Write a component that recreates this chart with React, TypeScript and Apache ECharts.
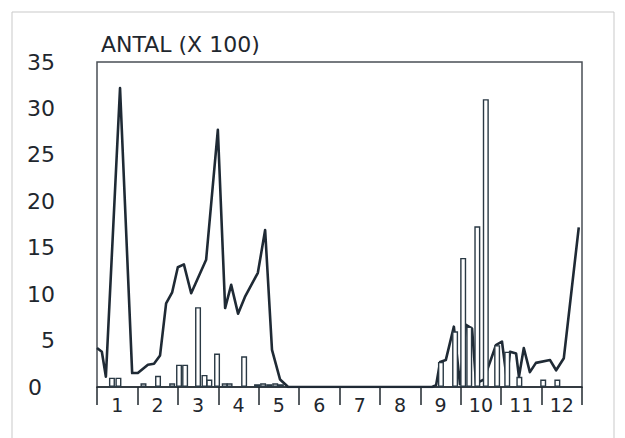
import React, { useEffect, useRef } from "react";
import * as echarts from "echarts";

// Month labels (x axis)
const months = ["1", "2", "3", "4", "5", "6", "7", "8", "9", "10", "11", "12"];

// Line series: position in months (0 = start of Jan, 12 = end of Dec) and value (x 100)
const lineX = [
  0, 0.12, 0.22, 0.57, 0.87, 1.01, 1.26, 1.41, 1.56, 1.71, 1.86, 2.0, 2.15, 2.33, 2.7, 2.99,
  3.17, 3.32, 3.49, 3.66, 3.98, 4.16, 4.33, 4.53, 4.73, 8.29, 8.39, 8.49, 8.63, 8.83, 8.98,
  9.13, 9.28, 9.38, 9.57, 9.87, 10.02, 10.14, 10.22, 10.37, 10.44, 10.56, 10.71, 10.86,
  11.21, 11.36, 11.55, 11.92,
];
const lineY = [
  4.2, 3.8, 1.1, 32.2, 1.5, 1.5, 2.4, 2.5, 3.4, 9.0, 10.2, 12.9, 13.2, 10.1, 13.7, 27.7,
  8.5, 11.0, 7.9, 9.7, 12.3, 16.9, 4.0, 0.8, 0, 0, 0.2, 2.7, 2.9, 6.5, 0.3,
  6.7, 6.3, 0.4, 0.8, 4.5, 4.9, 0.8, 3.8, 3.6, 1.1, 4.2, 1.6, 2.6,
  2.9, 1.8, 3.1, 17.2,
];

// Bar series: position in months and value (x 100)
const barX = [
  0.37, 0.53, 1.15, 1.51, 1.86, 2.03, 2.18, 2.5, 2.66, 2.78, 2.97, 3.16, 3.28, 3.64,
  3.96, 4.11, 4.26, 4.41, 4.55, 8.51, 8.86, 9.06, 9.21, 9.41, 9.62, 9.9, 10.15, 10.45,
  11.04, 11.39,
];
const barY = [
  1.0, 1.0, 0.4, 1.2, 0.4, 2.4, 2.4, 8.6, 1.3, 0.8, 3.6, 0.4, 0.4, 3.3,
  0.3, 0.4, 0.3, 0.4, 0.3, 2.7, 6.0, 13.9, 6.5, 17.3, 31.0, 4.5, 3.8, 1.1,
  0.8, 0.8,
];

const FONT = "'DejaVu Sans', Verdana, sans-serif";
const INK = "#1f272e";

export default function App() {
  const ref = useRef<HTMLDivElement>(null);

  useEffect(() => {
    if (!ref.current) return;
    const chart = echarts.init(ref.current, null, { renderer: "svg" });
    const option: any = {
      animation: false,
      backgroundColor: "#ffffff",
      title: {
        text: "ANTAL (X 100)",
        left: 96,
        top: 28,
        textStyle: { fontFamily: FONT, fontSize: 22, fontWeight: "normal", color: INK },
      },
      graphic: [
        {
          type: "rect",
          shape: { x: 12, y: 12, width: 602, height: 440 },
          style: { fill: "none", stroke: "#c9c9c9", lineWidth: 1 },
          silent: true,
        },
      ],
      grid: {
        left: 97,
        right: 43,
        top: 62,
        bottom: 51,
        show: true,
        borderColor: "#4a4f55",
        borderWidth: 1.5,
        backgroundColor: "#ffffff",
      },
      xAxis: [
        {
          type: "value",
          min: 0,
          max: 12,
          show: false,
        },
        {
          type: "category",
          data: months,
          boundaryGap: true,
          position: "bottom",
          axisLine: { show: true, lineStyle: { color: INK, width: 1.5 } },
          axisTick: {
            show: true,
            interval: 0,
            length: 18,
            lineStyle: { color: INK, width: 1.5 },
          },
          axisLabel: {
            interval: 0,
            margin: 8,
            fontFamily: FONT,
            fontSize: 19,
            color: INK,
          },
          splitLine: { show: false },
        },
      ],
      yAxis: {
        type: "value",
        min: 0,
        max: 35,
        interval: 5,
        axisLine: { show: false },
        axisTick: { show: false },
        splitLine: { show: false },
        axisLabel: {
          margin: 42,
          fontFamily: FONT,
          fontSize: 22,
          color: INK,
          formatter: (v: number) => (v === 0 ? "{z|0}" : String(v)),
          rich: {
            z: { fontFamily: FONT, fontSize: 22, color: INK, padding: [0, 13, 0, 0] },
          },
        },
      },
      series: [
        {
          type: "line",
          xAxisIndex: 0,
          data: lineX.map((x, i) => [x, lineY[i]]),
          showSymbol: false,
          symbol: "none",
          lineStyle: { color: "#1f2a35", width: 2.6, join: "round" },
          z: 2,
        },
        {
          type: "bar",
          xAxisIndex: 0,
          data: barX.map((x, i) => [x, barY[i]]),
          barWidth: 6,
          itemStyle: { color: "#ffffff", borderColor: "#2a3944", borderWidth: 1.4 },
          z: 3,
        },
      ],
    };
    chart.setOption(option);
    return () => chart.dispose();
  }, []);

  return (
    <div
      ref={ref}
      style={{ position: "fixed", left: 0, top: 0, width: 625, height: 438 }}
    />
  );
}
